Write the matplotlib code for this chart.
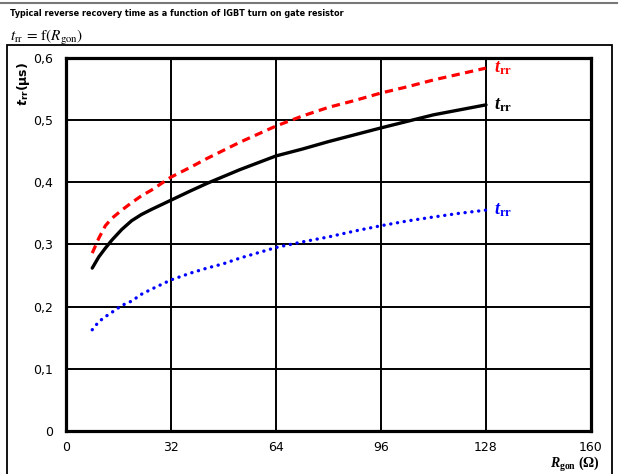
import matplotlib
matplotlib.use("Agg")
import matplotlib.pyplot as plt
from matplotlib.lines import Line2D
from matplotlib.patches import Rectangle

plt.rcParams["font.family"] = "DejaVu Sans"
plt.rcParams["mathtext.fontset"] = "custom"
plt.rcParams["mathtext.it"] = "Liberation Serif:italic:bold"
plt.rcParams["mathtext.rm"] = "Liberation Serif:bold"
plt.rcParams["mathtext.bf"] = "DejaVu Sans:italic:bold"
plt.rcParams["mathtext.sf"] = "DejaVu Sans:bold"

# gate resistor (Ohm) and reverse recovery time (us)
r_gon = [8, 10, 12, 14, 17, 20, 23, 26, 32, 38, 43, 48, 53, 64, 72, 80, 88, 96, 104, 112, 120, 128]
trr_red = [0.286, 0.310, 0.330, 0.342, 0.355, 0.367, 0.378, 0.387, 0.408, 0.424, 0.438,
           0.451, 0.464, 0.490, 0.506, 0.520, 0.531, 0.543, 0.553, 0.564, 0.5735, 0.583]
trr_black = [0.262, 0.280, 0.294, 0.307, 0.324, 0.338, 0.348, 0.356, 0.371, 0.386, 0.398,
             0.409, 0.420, 0.442, 0.453, 0.465, 0.476, 0.487, 0.4975, 0.508, 0.516, 0.524]
trr_blue = [0.163, 0.176, 0.184, 0.191, 0.202, 0.209, 0.220, 0.228, 0.243, 0.254, 0.262,
            0.269, 0.278, 0.295, 0.304, 0.312, 0.3215, 0.330, 0.3376, 0.344, 0.350, 0.355]

xticks = [0, 32, 64, 96, 128, 160]
yticks = [0, 0.1, 0.2, 0.3, 0.4, 0.5, 0.6]
ytick_labels = ["0", "0,1", "0,2", "0,3", "0,4", "0,5", "0,6"]

W, H = 622, 474
fig = plt.figure(figsize=(W / 100, H / 100), dpi=100)

# header line, title and formula
fig.add_artist(Line2D([0, 617 / W], [1 - 3 / H, 1 - 3 / H], color="#777777", lw=1.5,
                      transform=fig.transFigure))
fig.text(10 / W, 1 - 13 / H, "Typical reverse recovery time as a function of IGBT turn on gate resistor",
         fontsize=5.9, fontweight="bold", va="center", ha="left")
fig.text(10 / W, 1 - 41 / H, r"$t_{\mathrm{rr}}\,=\,\mathrm{f}(R_{\mathrm{gon}})$",
         fontsize=11, va="baseline", ha="left", math_fontfamily="stix")

# outer frame
fig.add_artist(Rectangle((7 / W, -0.05), 605 / W, 1.05 - 45 / H, fill=False, lw=1.3,
                         edgecolor="black", transform=fig.transFigure))

ax = fig.add_axes([66 / W, 42.7 / H, 525 / W, 373.8 / H])
ax.plot(r_gon, trr_red, color="#ff0000", lw=2.3, linestyle=(0, (2.6, 1.7)))
ax.plot(r_gon, trr_black, color="black", lw=2.4, solid_capstyle="round")
ax.plot(r_gon, trr_blue, color="#0000ff", lw=2.4, linestyle=(0, (0.05, 2.0)),
        dash_capstyle="round")

for vals, col in [(trr_red, "#ff0000"), (trr_black, "black"), (trr_blue, "#0000ff")]:
    ax.text(r_gon[-1] + 2.5, vals[-1], r"$t_{\mathrm{rr}}$", color=col, fontsize=13,
            ha="left", va="center")

ax.set_xlim(0, 160)
ax.set_ylim(0, 0.6)
ax.set_xticks(xticks)
ax.set_yticks(yticks)
ax.set_yticklabels(ytick_labels)
ax.tick_params(length=0, labelsize=9)
ax.tick_params(axis="y", pad=9)
ax.tick_params(axis="x", pad=7)
ax.grid(True, color="black", lw=1.4)
for s in ax.spines.values():
    s.set_linewidth(2.3)

fig.text(23 / W, 1 - 84 / H, r"$\mathbf{t}_{\mathsf{rr}}$(µs)", rotation=90,
         fontsize=9, fontweight="bold", ha="center", va="center")
fig.text(600 / W, 1 - 468 / H, r"$R_{\mathrm{gon}}$ (Ω)", fontsize=10, fontweight="bold",
         family="Liberation Serif", ha="right", va="baseline")

fig.savefig("out.png", dpi=100)
